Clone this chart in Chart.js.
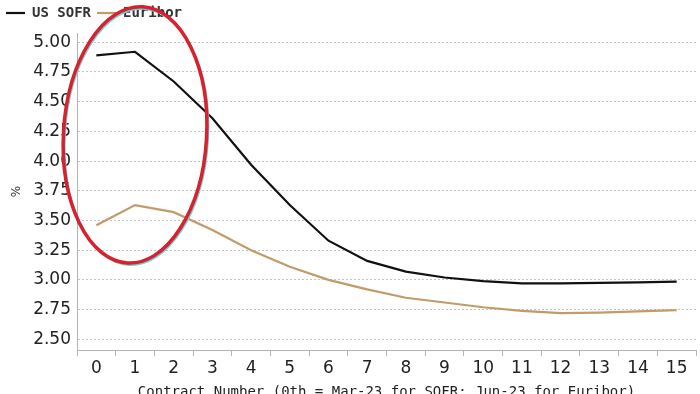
<!DOCTYPE html>
<html>
<head>
<meta charset="utf-8">
<script src="https://cdn.jsdelivr.net/npm/chart.js@4/dist/chart.umd.min.js"></script>
<style>
  html, body { margin: 0; padding: 0; background: #fff; overflow: hidden; }
  #wrap { position: relative; width: 700px; height: 404px; }
</style>
</head>
<body>
<div id="wrap"><canvas id="curve"></canvas></div>
<script>
'use strict';

// data
const contracts = ['0', '1', '2', '3', '4', '5', '6', '7', '8', '9', '10', '11', '12', '13', '14', '15'];
const sofr = [4.89, 4.92, 4.67, 4.36, 3.97, 3.63, 3.33, 3.16, 3.07, 3.02, 2.99, 2.97, 2.97, 2.975, 2.98, 2.985];
const euribor = [3.46, 3.63, 3.57, 3.42, 3.25, 3.11, 3.00, 2.92, 2.85, 2.81, 2.77, 2.74, 2.72, 2.725, 2.735, 2.745];
const yTicks = [2.50, 2.75, 3.00, 3.25, 3.50, 3.75, 4.00, 4.25, 4.50, 4.75, 5.00];

const sofrColor = '#111111';
const euriborColor = '#c29b69';
const gridColor = '#c4c4c4';
const axisColor = '#b4b4b4';

// hand-drawn ellipse over the first contracts, in data units
const ring = { x: 1.0, y: 4.22, rx: 1.85, ry: 1.08, tilt: 0.06 };

const ringPlugin = {
  id: 'ring',
  afterDraw(chart) {
    const { ctx, scales: { x, y } } = chart;
    const cx = x.getPixelForValue(ring.x);
    const cy = y.getPixelForValue(ring.y);
    const rx = Math.abs(x.getPixelForValue(ring.x + ring.rx) - cx);
    const ry = Math.abs(y.getPixelForValue(ring.y + ring.ry) - cy);
    ctx.save();
    ctx.strokeStyle = '#6fd0d8';
    ctx.lineWidth = 2.5;
    ctx.beginPath();
    ctx.ellipse(cx + 1.2, cy + 1.6, rx, ry, ring.tilt, 0, Math.PI * 2);
    ctx.stroke();
    ctx.strokeStyle = '#d9202c';
    ctx.lineWidth = 3.5;
    ctx.beginPath();
    ctx.ellipse(cx, cy, rx, ry, ring.tilt, 0, Math.PI * 2);
    ctx.stroke();
    ctx.restore();
  }
};

// legend box gets a fixed height so the plot starts where the reference does
const legendHeight = {
  id: 'legendHeight',
  beforeInit(chart) {
    const fit = chart.legend.fit;
    chart.legend.fit = function () { fit.bind(this)(); this.height = 33; };
  }
};

new Chart(document.getElementById('curve').getContext('2d'), {
  type: 'line',
  data: {
    labels: contracts,
    datasets: [
      { label: 'US SOFR', data: sofr, borderColor: sofrColor, backgroundColor: sofrColor, borderWidth: 2.2, pointRadius: 0, tension: 0 },
      { label: 'Euribor', data: euribor, borderColor: euriborColor, backgroundColor: euriborColor, borderWidth: 2.2, pointRadius: 0, tension: 0 }
    ]
  },
  options: {
    responsive: true,
    maintainAspectRatio: false,
    animation: false,
    layout: { padding: { top: 0, right: 4, left: 0, bottom: 0 } },
    plugins: {
      legend: {
        position: 'top',
        align: 'start',
        labels: {
          usePointStyle: true,
          pointStyle: 'line',
          pointStyleWidth: 19,
          padding: 6,
          color: '#333',
          font: { family: 'DejaVu Sans Mono', size: 14, weight: 'bold' }
        }
      },
      tooltip: { enabled: false }
    },
    scales: {
      x: {
        type: 'category',
        offset: true,
        grid: { offset: true, drawOnChartArea: false, drawTicks: true, tickLength: 6, color: axisColor },
        border: { display: true, color: axisColor },
        ticks: { padding: 2, color: '#222', font: { family: 'DejaVu Sans', size: 17 }, maxRotation: 0, autoSkip: false },
        title: {
          display: true,
          text: 'Contract Number (0th = Mar-23 for SOFR; Jun-23 for Euribor)',
          color: '#222',
          font: { family: 'DejaVu Sans Mono', size: 14 },
          padding: { top: 0, bottom: 3 }
        },
        afterFit: (s) => { s.height = 54; }
      },
      y: {
        min: 2.41,
        max: 5.078,
        afterBuildTicks: (s) => { s.ticks = yTicks.map(v => ({ value: v })); },
        grid: { drawTicks: false, color: gridColor, lineWidth: 1 },
        border: { display: true, color: axisColor, dash: [2, 2] },
        ticks: { padding: 6, color: '#222', font: { family: 'DejaVu Sans', size: 17 }, callback: (v) => Number(v).toFixed(2) },
        title: {
          display: true,
          text: '%',
          color: '#333',
          font: { family: 'DejaVu Sans', size: 12 },
          padding: { top: 10, bottom: 0 }
        },
        afterFit: (s) => { s.width = 77; }
      }
    }
  },
  plugins: [legendHeight, ringPlugin]
});
</script>
</body>
</html>
